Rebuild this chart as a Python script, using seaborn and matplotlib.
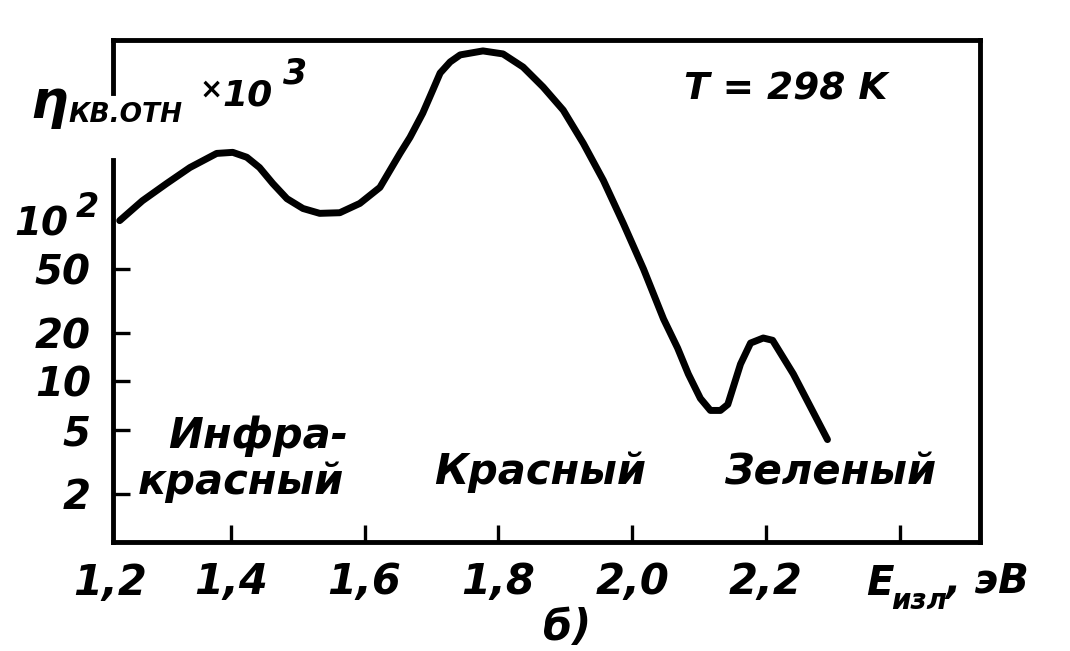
import matplotlib
matplotlib.use('Agg')
import matplotlib.pyplot as plt
import seaborn as sns
from matplotlib.ticker import NullLocator

# Emission energy, eV, and relative quantum efficiency (x10^3)
energy = [1.234, 1.268, 1.304, 1.339, 1.379, 1.403, 1.424, 1.443, 1.463, 1.484,
          1.508, 1.533, 1.563, 1.593, 1.623, 1.653, 1.668, 1.687, 1.702, 1.713,
          1.728, 1.743, 1.777, 1.807, 1.837, 1.867, 1.897, 1.927, 1.957, 1.987,
          2.017, 2.047, 2.068, 2.084, 2.102, 2.117, 2.132, 2.143, 2.162, 2.177,
          2.196, 2.210, 2.241, 2.292]
eta = [100, 133, 170, 214, 262, 266, 248, 214, 170, 137,
       119, 111, 112, 128, 161, 262, 330, 466, 649, 829,
       972, 1075, 1138, 1090, 903, 678, 487, 303, 178, 95.7,
       50.0, 24.4, 16.1, 11.1, 7.83, 6.59, 6.59, 7.18, 12.8, 17.3,
       18.6, 18.0, 11.1, 4.34]

x_ticks = [1.4, 1.6, 1.8, 2.0, 2.2, 2.4]
x_tick_labels = ['1,4', '1,6', '1,8', '2,0', '2,2', '']
y_ticks = [2, 5, 10, 20, 50]
y_tick_labels = ['2', '5', '10', '20', '50']

# band names and where they sit (axes fraction)
bands = [('Инфра-', 0.167, 0.211), ('красный', 0.148, 0.120),
         ('Красный', 0.4925, 0.139), ('Зеленый', 0.827, 0.139)]

sns.set_style('white')
plt.rcParams['font.family'] = ['DejaVu Sans']

lab = dict(fontstyle='italic', fontweight='bold', color='black')

fig = plt.figure(figsize=(10.7, 6.51), dpi=100)
ax = fig.add_axes([0.1056, 0.1674, 0.8103, 0.7711])

sns.lineplot(x=energy, y=eta, ax=ax, color='black', linewidth=5,
             sort=False, estimator=None, solid_capstyle='round',
             solid_joinstyle='round')
ax.set_yscale('log')
ax.set_xlim(1.224, 2.52)
ax.set_ylim(1, 1330)

ax.set_xticks(x_ticks)
ax.set_xticklabels(x_tick_labels, fontsize=30, **lab)
ax.set_yticks(y_ticks)
ax.set_yticklabels(y_tick_labels, fontsize=29, **lab)
ax.yaxis.set_minor_locator(NullLocator())
ax.tick_params(axis='both', which='major', direction='in', length=12,
               width=2.4, color='black', pad=16, bottom=True, left=True)
ax.tick_params(axis='x', pad=14)
ax.set_xlabel('')
ax.set_ylabel('')

for s in ['top', 'right', 'bottom']:
    ax.spines[s].set_linewidth(3.5)
    ax.spines[s].set_color('black')
ax.spines['left'].set_visible(False)
# left axis line is broken where the y label sits
for y0, y1 in [(0, 0.761), (0.894, 1)]:
    ax.plot([0, 0], [y0, y1], transform=ax.transAxes, color='black', lw=3.5,
            clip_on=False, solid_capstyle='projecting')

# "1,2" sits just left of the frame
ax.text(1.219, -0.040, '1,2', transform=ax.get_xaxis_transform(), ha='center',
        va='top', fontsize=30, clip_on=False, **lab)

# y label  eta_кв.отн x10^3
fig.text(30 / 1070, 1 - 118 / 651, 'η', fontsize=38, ha='left', va='baseline', **lab)
fig.text(68 / 1070, 1 - 122 / 651, 'КВ.ОТН', fontsize=19, ha='left', va='baseline', **lab)
fig.text(200 / 1070, 1 - 98 / 651, '×', fontsize=20, ha='left', va='baseline', **lab)
fig.text(222 / 1070, 1 - 106 / 651, '10', fontsize=26, ha='left', va='baseline', **lab)
fig.text(283 / 1070, 1 - 84 / 651, '3', fontsize=25, ha='left', va='baseline', **lab)

# 10^2 tick label
fig.text(68 / 1070, 1 - 235 / 651, '10', fontsize=28, ha='right', va='baseline', **lab)
fig.text(76 / 1070, 1 - 217 / 651, '2', fontsize=24, ha='left', va='baseline', **lab)

# x label  E_изл, эВ
fig.text(866 / 1070, 1 - 595 / 651, 'E', fontsize=29, ha='left', va='baseline', **lab)
fig.text(891 / 1070, 1 - 609 / 651, 'изл', fontsize=20, ha='left', va='baseline', **lab)
fig.text(945 / 1070, 1 - 593 / 651, ', эВ', fontsize=29, ha='left', va='baseline', **lab)

ax.text(0.776, 0.902, 'T = 298 K', transform=ax.transAxes, ha='center', va='center',
        fontsize=27, **lab)

for name, bx, by in bands:
    ax.text(bx, by, name, transform=ax.transAxes, ha='center', va='center',
            fontsize=30, **lab)

fig.text(567 / 1070, 1 - 628 / 651, 'б)', fontsize=30, ha='center', va='center', **lab)

fig.savefig('out.png', dpi=100, facecolor='white')
